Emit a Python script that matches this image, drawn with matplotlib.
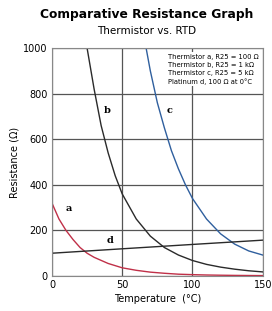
import matplotlib.pyplot as plt

temp_a = [0, 5, 10, 15, 20, 25, 30, 40, 50, 60, 70, 80, 90, 100, 110, 120, 130, 140, 150]
res_a = [320, 250, 200, 160, 125, 100, 82, 55, 36, 25, 17, 12, 8, 6, 4.5, 3.5, 2.7, 2.2, 1.8]

temp_b = [25, 30, 35, 40, 45, 50, 60, 70, 80, 90, 100, 110, 120, 130, 140, 150]
res_b = [1000, 820, 660, 540, 440, 360, 250, 175, 125, 92, 68, 51, 39, 30, 23, 18]

temp_c = [67, 70, 75, 80, 85, 90, 95, 100, 110, 120, 130, 140, 150]
res_c = [1000, 900, 760, 650, 550, 470, 400, 340, 250, 185, 140, 110, 92]

temp_d = [0, 50, 100, 150]
res_d = [100, 119.4, 138.5, 157.3]

legend_lines = ["Thermistor a, R25 = 100 \u03a9",
                "Thermistor b, R25 = 1 k\u03a9",
                "Thermistor c, R25 = 5 k\u03a9",
                "Platinum d, 100 \u03a9 at 0\u00b0C"]

fig = plt.figure(figsize=(2.72, 3.11), dpi=100)
ax = fig.add_axes([0.191, 0.1125, 0.775, 0.733])

ax.plot(temp_a, res_a, color='#c03048', lw=1.0)
ax.plot(temp_b, res_b, color='#2a2a2a', lw=1.0)
ax.plot(temp_c, res_c, color='#2f5f9e', lw=1.0)
ax.plot(temp_d, res_d, color='#2a2a2a', lw=1.0)

ax.set_xlim(0, 150)
ax.set_ylim(0, 1000)
ax.set_xticks([0, 50, 100, 150])
ax.set_yticks([0, 200, 400, 600, 800, 1000])
ax.grid(True, color='#555555', lw=0.9)
ax.tick_params(length=0, labelsize=7, pad=3)
for s in ax.spines.values():
    s.set_color('#888888')
    s.set_linewidth(0.8)

ax.set_xlabel("Temperature  (\u00b0C)", fontsize=7, labelpad=3)
ax.set_ylabel("Resistance (\u03a9)", fontsize=7, labelpad=3)

for lbl, x, y in [('a', 12, 294), ('b', 39, 724), ('c', 84, 724), ('d', 41, 154)]:
    ax.text(x, y, lbl, fontsize=7, family='serif', fontweight='bold', ha='center', va='center')

ax.text(0.55, 0.975, "\n".join(legend_lines), transform=ax.transAxes, fontsize=4.9,
        va='top', ha='left', linespacing=1.4,
        bbox=dict(facecolor='white', edgecolor='none', pad=1))

fig.text(0.54, 0.952, "Comparative Resistance Graph", fontsize=8.8, fontweight='bold',
         ha='center', va='center')
fig.text(0.54, 0.90, "Thermistor vs. RTD", fontsize=7.5, ha='center', va='center')

fig.savefig('out.png', dpi=100)
